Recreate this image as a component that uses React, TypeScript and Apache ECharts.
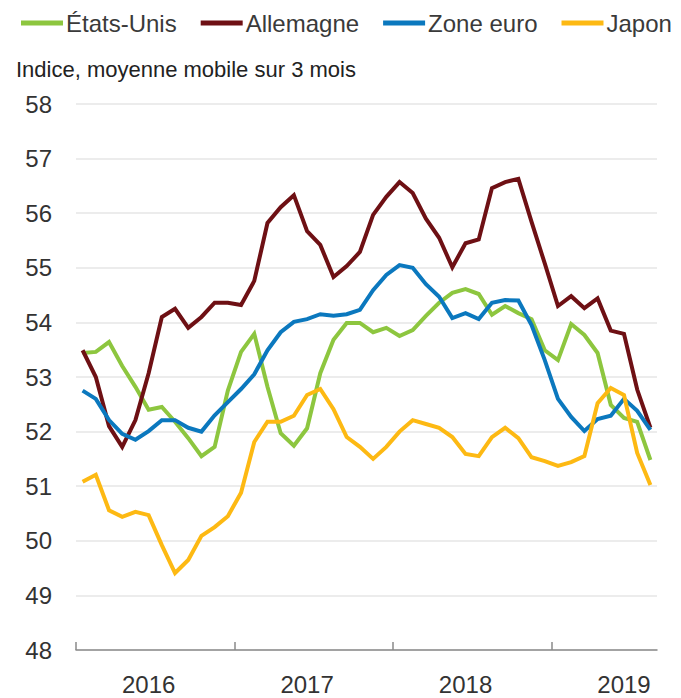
import React, { useEffect, useRef } from "react";
import * as echarts from "echarts";

const months = [
  "2016-01", "2016-02", "2016-03", "2016-04", "2016-05", "2016-06", "2016-07", "2016-08", "2016-09", "2016-10", "2016-11", "2016-12",
  "2017-01", "2017-02", "2017-03", "2017-04", "2017-05", "2017-06", "2017-07", "2017-08", "2017-09", "2017-10", "2017-11", "2017-12",
  "2018-01", "2018-02", "2018-03", "2018-04", "2018-05", "2018-06", "2018-07", "2018-08", "2018-09", "2018-10", "2018-11", "2018-12",
  "2019-01", "2019-02", "2019-03", "2019-04", "2019-05", "2019-06", "2019-07", "2019-08",
];
// month boundaries (start of each month + end of the last one), used for the year ticks
const monthBoundaries = [...months, "2019-09"];

const seriesNames = ["États-Unis", "Allemagne", "Zone euro", "Japon"];
const seriesColors = ["#8DC63F", "#6E1014", "#0B78BE", "#FDB913"];

const usa = [
  53.44, 53.46, 53.64, 53.2, 52.82, 52.4, 52.45, 52.18, 51.88, 51.55,
  51.72, 52.75, 53.46, 53.79, 52.82, 51.97, 51.74, 52.06, 53.07, 53.68,
  53.99, 53.99, 53.82, 53.9, 53.75, 53.86, 54.12, 54.36, 54.54, 54.61,
  54.52, 54.14, 54.3, 54.17, 54.06, 53.49, 53.31, 53.97, 53.77, 53.44,
  52.49, 52.25, 52.18, 51.48,
];
const germany = [
  53.49, 53.0, 52.1, 51.72, 52.21, 53.07, 54.1, 54.25, 53.9, 54.1,
  54.36, 54.36, 54.32, 54.76, 55.82, 56.11, 56.33, 55.67, 55.42, 54.83,
  55.03, 55.29, 55.97, 56.3, 56.57, 56.37, 55.9, 55.55, 55.01, 55.45,
  55.52, 56.46, 56.57, 56.63, 55.84, 55.08, 54.3, 54.48, 54.26, 54.44,
  53.85, 53.79, 52.77, 52.07,
];
const euroArea = [
  52.75, 52.6, 52.21, 51.96, 51.85, 52.01, 52.21, 52.21, 52.07, 52.0,
  52.3, 52.54, 52.78, 53.05, 53.49, 53.82, 54.01, 54.06, 54.15, 54.12,
  54.15, 54.23, 54.59, 54.87, 55.05, 55.0, 54.7, 54.47, 54.08, 54.17,
  54.06, 54.36, 54.41, 54.4, 53.95, 53.31, 52.6, 52.27, 52.01, 52.23,
  52.29, 52.6, 52.38, 52.03,
];
const japan = [
  51.08, 51.21, 50.56, 50.44, 50.53, 50.47, 49.92, 49.41, 49.65, 50.09,
  50.25, 50.45, 50.88, 51.81, 52.18, 52.18, 52.29, 52.67, 52.78, 52.41,
  51.9, 51.72, 51.5, 51.72, 52.0, 52.21, 52.14, 52.07, 51.9, 51.59,
  51.55, 51.9, 52.07, 51.88, 51.53, 51.46, 51.37, 51.44, 51.55, 52.52,
  52.8, 52.67, 51.61, 51.02,
];
const seriesValues = [usa, germany, euroArea, japan];

const yMin = 48;
const yMax = 58;
const yStep = 1;
const subtitle = "Indice, moyenne mobile sur 3 mois";

const TEXT_FONT = "'Liberation Sans', Arial, sans-serif";

export default function App() {
  const ref = useRef<HTMLDivElement>(null);

  useEffect(() => {
    if (!ref.current) return;
    const chart = echarts.init(ref.current, null, { renderer: "svg" });
    const gridTop = 104;
    const gridBottom = 48;
    const gridHeight = 698 - gridTop - gridBottom;
    chart.setOption({
      animation: false,
      backgroundColor: "#ffffff",
      title: {
        text: subtitle,
        left: 16,
        top: 58,
        padding: 0,
        textStyle: {
          fontFamily: TEXT_FONT,
          fontSize: 22,
          fontWeight: "normal",
          color: "#222222",
        },
      },
      legend: {
        data: seriesNames,
        left: 21,
        top: 11,
        padding: 0,
        icon: "rect",
        itemWidth: 42,
        itemHeight: 5,
        itemGap: 24,
        textStyle: {
          fontFamily: TEXT_FONT,
          fontSize: 24,
          color: "#3a3a3a",
          padding: [0, 0, 0, -2],
        },
      },
      grid: { left: 76, right: 24, top: gridTop, bottom: gridBottom, containLabel: false },
      xAxis: [
        {
          type: "category",
          data: months,
          boundaryGap: true,
          axisLine: { show: true, lineStyle: { color: "#8a8a8a", width: 1.5 } },
          axisTick: { show: false },
          splitLine: { show: false },
          axisLabel: {
            interval: (i: number) => i % 12 === 5,
            formatter: (v: string) => v.slice(0, 4),
            margin: 22,
            fontFamily: TEXT_FONT,
            fontSize: 24,
            lineHeight: 24,
            color: "#333333",
          },
        },
        {
          type: "category",
          data: monthBoundaries,
          boundaryGap: false,
          position: "top",
          offset: -gridHeight,
          axisLine: { show: false },
          axisLabel: { show: false },
          splitLine: { show: false },
          axisTick: {
            show: true,
            inside: false,
            length: 8,
            interval: (i: number) => i % 12 === 0,
            lineStyle: { color: "#8a8a8a", width: 1.5 },
          },
        },
      ],
      yAxis: {
        type: "value",
        min: yMin,
        max: yMax,
        interval: yStep,
        axisLine: { show: false },
        axisTick: { show: false },
        axisLabel: {
          margin: 24,
          fontFamily: TEXT_FONT,
          fontSize: 24,
          color: "#333333",
        },
        splitLine: { lineStyle: { color: "#e6e6e6", width: 1.5 } },
      },
      series: seriesNames.map((name, k) => ({
        name,
        type: "line",
        xAxisIndex: 0,
        data: seriesValues[k],
        symbol: "none",
        showSymbol: false,
        color: seriesColors[k],
        lineStyle: { width: 4, color: seriesColors[k], join: "miter" },
        z: 2 + k,
      })),
    });
    return () => chart.dispose();
  }, []);

  return (
    <div
      ref={ref}
      style={{ position: "fixed", left: 0, top: 0, width: 681, height: 698, background: "#fff" }}
    />
  );
}
